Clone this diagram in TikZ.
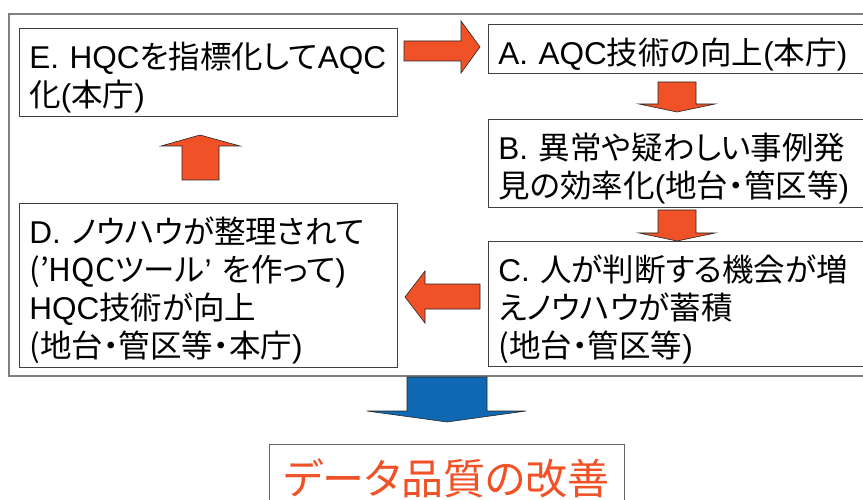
\documentclass[tikz,border=0pt]{standalone}
\usepackage{fontspec}
\setmainfont{Liberation Sans}
\newfontfamily\jpfont[RawFeature=+palt]{Noto Sans CJK JP}
\newXeTeXintercharclass\jpclass
\newcount\jpcc
\def\jpsetrange#1#2{\jpcc=#1\relax\loop\XeTeXcharclass\jpcc=\jpclass\ifnum\jpcc<#2\advance\jpcc by 1\repeat}
\jpsetrange{"3000}{"30FF}
\jpsetrange{"4E00}{"9FFF}
\jpsetrange{"FF00}{"FFEF}
\XeTeXinterchartokenstate=1
\XeTeXinterchartoks 0 \jpclass = {\jpfont}
\XeTeXinterchartoks 4095 \jpclass = {\jpfont}
\XeTeXinterchartoks \jpclass 0 = {\rmfamily}
\newcommand\topgap{\rule{0pt}{37pt}}
\definecolor{arrowred}{RGB}{240,81,38}
\definecolor{arrowblue}{RGB}{17,104,178}
\definecolor{framegray}{RGB}{128,128,128}
\tikzset{
  box/.style={draw=black!75, line width=0.8pt, fill=white, rectangle, inner xsep=10pt, inner ysep=0pt,
    align=left, font=\fontsize{31.5}{38}\selectfont, anchor=north west},
  blockarrow/.style={fill=arrowred, draw=black!85, line width=0.6pt, line join=miter},
  bluearrow/.style={fill=arrowblue, draw=black!85, line width=0.6pt, line join=miter}
}
\begin{document}
\begin{tikzpicture}[x=1pt,y=-1pt]
\useasboundingbox (0,0) rectangle (863,500);
\clip (0,0) rectangle (863,500);
\fill[white] (0,0) rectangle (863,500);
% outer frame
\draw[framegray, line width=1.6pt] (9,14) rectangle (890,376);
% boxes
\node[box, text width=358pt, minimum height=88pt] (e) at (19,28) {\topgap E. HQCを指標化してAQC\\化(本庁)};
\node[box, text width=367pt, minimum height=49pt] (a) at (488,24) {\topgap A. AQC技術の向上(本庁)};
\node[box, text width=367pt, minimum height=88pt] (b) at (488,119) {\topgap B. 異常や疑わしい事例発\\見の効率化(地台・管区等)};
\node[box, text width=367pt, minimum height=125pt] (c) at (488,241) {\topgap C. 人が判断する機会が増\\えノウハウが蓄積\\(地台・管区等)};
\node[box, text width=358pt, minimum height=164pt] (d) at (19,203) {\topgap D. ノウハウが整理されて\\(’HQCツール’ を作って)\\HQC技術が向上\\(地台・管区等・本庁)};
% block arrows
\draw[blockarrow] (404,41) -- (461,41) -- (461,21) -- (480,47) -- (461,73) -- (461,61) -- (404,61) -- cycle;
\draw[blockarrow] (658,82) -- (696,82) -- (696,104) -- (715,104) -- (677,112) -- (639,104) -- (658,104) -- cycle;
\draw[blockarrow] (658,210) -- (696,210) -- (696,233) -- (715,233) -- (677,241) -- (639,233) -- (658,233) -- cycle;
\draw[blockarrow] (480,284) -- (425,284) -- (425,271) -- (405,297) -- (425,323) -- (425,309) -- (480,309) -- cycle;
\draw[blockarrow] (182,180) -- (182,146) -- (161,146) -- (200,135) -- (240,146) -- (219,146) -- (219,180) -- cycle;
\draw[bluearrow] (407,377) -- (487,377) -- (487,411) -- (526,411) -- (447,422) -- (367,411) -- (407,411) -- cycle;
% result box
\node[draw=black!60, line width=0.8pt, fill=white, anchor=north west, minimum width=355pt, minimum height=68pt,
  inner sep=0pt, text=arrowred, font=\fontsize{42}{50}\selectfont] (q) at (269,444) {データ品質の改善};
\end{tikzpicture}
\end{document}
